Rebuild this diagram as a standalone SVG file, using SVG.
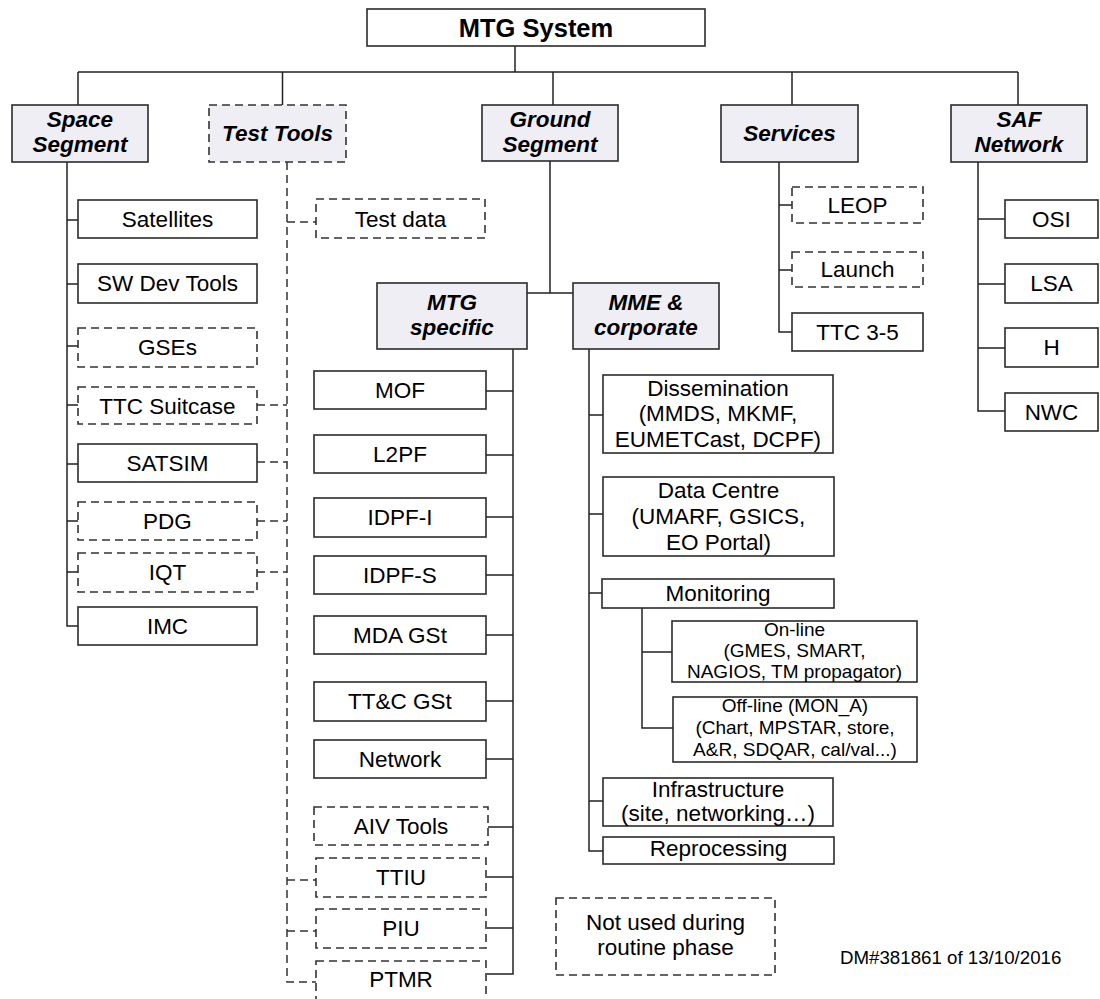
<svg xmlns="http://www.w3.org/2000/svg" width="1100" height="999" viewBox="0 0 1100 999">
  <style>
    .hdr { fill: #efeef4; stroke: #2b2b2b; stroke-width: 1.6; }
    .box { fill: #ffffff; stroke: #2b2b2b; stroke-width: 1.6; }
    .dbox { fill: #ffffff; stroke: #333333; stroke-width: 1.6; stroke-dasharray: 8 5; }
    .dhdr { fill: #efeef4; stroke: #333333; stroke-width: 1.6; stroke-dasharray: 8 5; }
    .conn { fill: none; stroke: #222222; stroke-width: 1.5; }
    .dconn { fill: none; stroke: #333333; stroke-width: 1.5; stroke-dasharray: 8 5; }
    text { font-family: "Liberation Sans", Arial, sans-serif; fill: #000000; text-anchor: middle; }
    .title { font-size: 25.5px; font-weight: bold; }
    .th { font-size: 22.5px; font-weight: bold; font-style: italic; }
    .t { font-size: 22.5px; }
    .ts { font-size: 19px; }
    .dm { font-size: 18.7px; text-anchor: start; }
  </style>

  <!-- connectors -->
  <g id="connectors">
    <!-- top level bus -->
    <path class="conn" d="M515 46 V72 M78 72 H1018 M78 72 V105 M282.5 72 V105 M553 72 V105 M792 72 V105 M1018 72 V105"/>
    <!-- space segment -->
    <path class="conn" d="M67 162 V626 H78 M67 220 H78 M67 284 H78 M67 346 H78 M67 405 H78 M67 464 H78 M67 521 H78 M67 572 H78"/>
    <!-- test tools (dashed) -->
    <path class="dconn" d="M287 162 V982 H316 M287 222 H316 M257 405 H287 M257 462 H287 M257 521 H287 M257 572 H287 M287 880 H316 M287 931 H316"/>
    <!-- ground segment -->
    <path class="conn" d="M550 161 V293 M527 293 H573"/>
    <!-- MTG specific -->
    <path class="conn" d="M513 349 V974 H487 M486 391 H513 M486 455 H513 M486 517 H513 M486 575 H513 M486 635 H513 M486 701 H513 M486 759 H513 M488 827 H513 M487 877 H513 M487 928 H513"/>
    <!-- MME & corporate -->
    <path class="conn" d="M589 349 V851 H603 M589 415 H603 M589 514 H603 M589 593 H602 M589 801 H603"/>
    <path class="conn" d="M642 608 V728 H673 M642 652 H672"/>
    <!-- services -->
    <path class="conn" d="M779 162 V332 H792 M779 205 H792 M779 270 H792"/>
    <!-- SAF network -->
    <path class="conn" d="M978 162 V411 H1005 M978 219 H1005 M978 284 H1005 M978 348 H1005"/>
  </g>

  <!-- root -->
  <g id="mtg-system">
    <rect class="box" x="367" y="9" width="338" height="37"/>
    <text class="title" x="536" y="37">MTG System</text>
  </g>

  <!-- first level -->
  <g id="space-segment">
    <rect class="hdr" x="12" y="105" width="136" height="57"/>
    <text class="th" x="80" y="127">Space</text>
    <text class="th" x="80" y="152">Segment</text>
  </g>
  <g id="test-tools">
    <rect class="dhdr" x="209" y="105" width="137" height="57"/>
    <text class="th" x="277.5" y="141">Test Tools</text>
  </g>
  <g id="ground-segment">
    <rect class="hdr" x="482" y="105" width="136" height="56"/>
    <text class="th" x="550" y="127">Ground</text>
    <text class="th" x="550" y="152">Segment</text>
  </g>
  <g id="services">
    <rect class="hdr" x="721" y="105" width="137" height="57"/>
    <text class="th" x="789.5" y="141">Services</text>
  </g>
  <g id="saf-network">
    <rect class="hdr" x="951" y="105" width="136" height="57"/>
    <text class="th" x="1019" y="127">SAF</text>
    <text class="th" x="1019" y="152">Network</text>
  </g>

  <!-- space segment children -->
  <g id="satellites">
    <rect class="box" x="78" y="200" width="179" height="38"/>
    <text class="t" x="167.5" y="227">Satellites</text>
  </g>
  <g id="sw-dev-tools">
    <rect class="box" x="78" y="264" width="179" height="39"/>
    <text class="t" x="167.5" y="291">SW Dev Tools</text>
  </g>
  <g id="gses">
    <rect class="dbox" x="78" y="328" width="179" height="39"/>
    <text class="t" x="167.5" y="355">GSEs</text>
  </g>
  <g id="ttc-suitcase">
    <rect class="dbox" x="78" y="387" width="179" height="37"/>
    <text class="t" x="167.5" y="414">TTC Suitcase</text>
  </g>
  <g id="satsim">
    <rect class="box" x="78" y="444" width="179" height="38"/>
    <text class="t" x="167.5" y="471">SATSIM</text>
  </g>
  <g id="pdg">
    <rect class="dbox" x="78" y="502" width="179" height="38"/>
    <text class="t" x="167.5" y="529">PDG</text>
  </g>
  <g id="iqt">
    <rect class="dbox" x="78" y="553" width="179" height="39"/>
    <text class="t" x="167.5" y="580">IQT</text>
  </g>
  <g id="imc">
    <rect class="box" x="78" y="607" width="179" height="38"/>
    <text class="t" x="167.5" y="634">IMC</text>
  </g>

  <!-- test tools child -->
  <g id="test-data">
    <rect class="dbox" x="316" y="199" width="169" height="39"/>
    <text class="t" x="400.5" y="227">Test data</text>
  </g>

  <!-- ground segment second level -->
  <g id="mtg-specific">
    <rect class="hdr" x="377" y="283" width="150" height="66"/>
    <text class="th" x="452" y="310">MTG</text>
    <text class="th" x="452" y="335">specific</text>
  </g>
  <g id="mme-corporate">
    <rect class="hdr" x="573" y="283" width="146" height="66"/>
    <text class="th" x="646" y="310">MME &amp;</text>
    <text class="th" x="646" y="335">corporate</text>
  </g>

  <!-- MTG specific children -->
  <g id="mof">
    <rect class="box" x="314" y="371" width="172" height="38"/>
    <text class="t" x="400" y="398">MOF</text>
  </g>
  <g id="l2pf">
    <rect class="box" x="314" y="435" width="172" height="38"/>
    <text class="t" x="400" y="462">L2PF</text>
  </g>
  <g id="idpf-i">
    <rect class="box" x="314" y="498" width="172" height="39"/>
    <text class="t" x="400" y="525">IDPF-I</text>
  </g>
  <g id="idpf-s">
    <rect class="box" x="314" y="556" width="172" height="38"/>
    <text class="t" x="400" y="583">IDPF-S</text>
  </g>
  <g id="mda-gst">
    <rect class="box" x="314" y="616" width="172" height="38"/>
    <text class="t" x="400" y="643">MDA GSt</text>
  </g>
  <g id="ttc-gst">
    <rect class="box" x="314" y="682" width="172" height="39"/>
    <text class="t" x="400" y="709">TT&amp;C GSt</text>
  </g>
  <g id="network">
    <rect class="box" x="314" y="740" width="172" height="38"/>
    <text class="t" x="400" y="767">Network</text>
  </g>
  <g id="aiv-tools">
    <rect class="dbox" x="314" y="807" width="174" height="38"/>
    <text class="t" x="401" y="834">AIV Tools</text>
  </g>
  <g id="ttiu">
    <rect class="dbox" x="316" y="858" width="170" height="39"/>
    <text class="t" x="401" y="885">TTIU</text>
  </g>
  <g id="piu">
    <rect class="dbox" x="316" y="909" width="170" height="39"/>
    <text class="t" x="401" y="936">PIU</text>
  </g>
  <g id="ptmr">
    <rect class="dbox" x="316" y="961" width="170" height="40"/>
    <text class="t" x="401" y="987">PTMR</text>
  </g>

  <!-- MME & corporate children -->
  <g id="dissemination">
    <rect class="box" x="603" y="375" width="230" height="78"/>
    <text class="t" x="718" y="396">Dissemination</text>
    <text class="t" x="718" y="421">(MMDS, MKMF,</text>
    <text class="t" x="718" y="447">EUMETCast, DCPF)</text>
  </g>
  <g id="data-centre">
    <rect class="box" x="603" y="477" width="231" height="79"/>
    <text class="t" x="718.5" y="498">Data Centre</text>
    <text class="t" x="718.5" y="524">(UMARF, GSICS,</text>
    <text class="t" x="718.5" y="550">EO Portal)</text>
  </g>
  <g id="monitoring">
    <rect class="box" x="602" y="579" width="232" height="29"/>
    <text class="t" x="718" y="601">Monitoring</text>
  </g>
  <g id="on-line">
    <rect class="box" x="672" y="621" width="245" height="61"/>
    <text class="ts" x="794.5" y="636">On-line</text>
    <text class="ts" x="794.5" y="657">(GMES, SMART,</text>
    <text class="ts" x="794.5" y="678">NAGIOS, TM propagator)</text>
  </g>
  <g id="off-line">
    <rect class="box" x="673" y="697" width="244" height="65"/>
    <text class="ts" x="795" y="712">Off-line (MON_A)</text>
    <text class="ts" x="795" y="734">(Chart, MPSTAR, store,</text>
    <text class="ts" x="795" y="756">A&amp;R, SDQAR, cal/val...)</text>
  </g>
  <g id="infrastructure">
    <rect class="box" x="603" y="778" width="230" height="48"/>
    <text class="t" x="718" y="797">Infrastructure</text>
    <text class="t" x="718" y="821">(site, networking…)</text>
  </g>
  <g id="reprocessing">
    <rect class="box" x="603" y="837" width="231" height="27"/>
    <text class="t" x="718.5" y="856">Reprocessing</text>
  </g>

  <!-- services children -->
  <g id="leop">
    <rect class="dbox" x="792" y="187" width="131" height="36"/>
    <text class="t" x="857.5" y="213">LEOP</text>
  </g>
  <g id="launch">
    <rect class="dbox" x="792" y="252" width="131" height="35"/>
    <text class="t" x="857.5" y="277">Launch</text>
  </g>
  <g id="ttc-3-5">
    <rect class="box" x="792" y="313" width="131" height="38"/>
    <text class="t" x="857.5" y="340">TTC 3-5</text>
  </g>

  <!-- SAF network children -->
  <g id="osi">
    <rect class="box" x="1005" y="200" width="93" height="38"/>
    <text class="t" x="1051.5" y="227">OSI</text>
  </g>
  <g id="lsa">
    <rect class="box" x="1005" y="264" width="93" height="39"/>
    <text class="t" x="1051.5" y="291">LSA</text>
  </g>
  <g id="h">
    <rect class="box" x="1005" y="328" width="93" height="39"/>
    <text class="t" x="1051.5" y="355">H</text>
  </g>
  <g id="nwc">
    <rect class="box" x="1005" y="393" width="93" height="38"/>
    <text class="t" x="1051.5" y="420">NWC</text>
  </g>

  <!-- legend and reference -->
  <g id="legend">
    <rect class="dbox" x="556" y="898" width="219" height="77"/>
    <text class="t" x="665.5" y="930">Not used during</text>
    <text class="t" x="665.5" y="955">routine phase</text>
  </g>
  <g id="doc-ref">
    <text class="dm" x="840" y="964">DM#381861 of 13/10/2016</text>
  </g>
</svg>
